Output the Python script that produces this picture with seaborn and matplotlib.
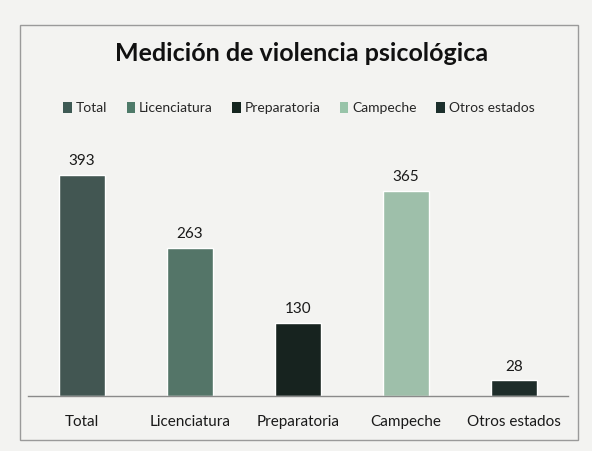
import matplotlib
matplotlib.use("Agg")
import matplotlib.pyplot as plt
import seaborn as sns
import pandas as pd
from matplotlib.patches import Patch, Rectangle

# Datos del grafico
categorias = ["Total", "Licenciatura", "Preparatoria", "Campeche", "Otros estados"]
valores = [393, 263, 130, 365, 28]
colores = ["#3e5a54", "#4e7a69", "#15251f", "#98c4a9", "#1b2f2c"]

df = pd.DataFrame({"categoria": categorias, "valor": valores})

sns.set_theme(style="white")
plt.rcParams["font.family"] = ["Lato", "DejaVu Sans"]

fig = plt.figure(figsize=(5.92, 4.51), dpi=100)
fig.patch.set_facecolor("#f3f3f1")

# marco del grafico
fig.patches.append(Rectangle((20 / 592, 11 / 451), 558 / 592, 415 / 451,
                             transform=fig.transFigure, fill=False,
                             edgecolor="#9a9a9a", linewidth=1.0))

ax = fig.add_axes([28 / 592, 55 / 451, 540 / 592, 253 / 451])
ax.set_facecolor("#f3f3f1")

sns.barplot(data=df, x="categoria", y="valor", hue="categoria",
            palette=colores, width=0.42, legend=False, ax=ax)

for i, v in enumerate(valores):
    ax.text(i, v + 12, str(v), ha="center", va="bottom", fontsize=11, color="#1a1a1a")

ax.set_ylim(0, 450)
ax.set_xlim(-0.5, 4.5)
ax.set_xlabel("")
ax.set_ylabel("")
ax.set_yticks([])
ax.tick_params(axis="x", length=0, labelsize=11, colors="#1a1a1a", pad=14)
for s in ["top", "right", "left"]:
    ax.spines[s].set_visible(False)
ax.spines["bottom"].set_color("#8a8a8a")
ax.spines["bottom"].set_linewidth(1.0)

fig.text(0.51, 0.882, "Medición de violencia psicológica", ha="center", va="center",
         fontsize=18, fontweight="bold", color="#111111")

handles = [Patch(facecolor=c, edgecolor="none") for c in colores]
fig.legend(handles, categorias, loc="center", bbox_to_anchor=(0.505, 0.76),
           ncol=5, frameon=False, fontsize=10, handlelength=0.6, handleheight=0.8,
           handletextpad=0.3, columnspacing=1.4)

fig.savefig("out.png", dpi=100, facecolor=fig.get_facecolor())
